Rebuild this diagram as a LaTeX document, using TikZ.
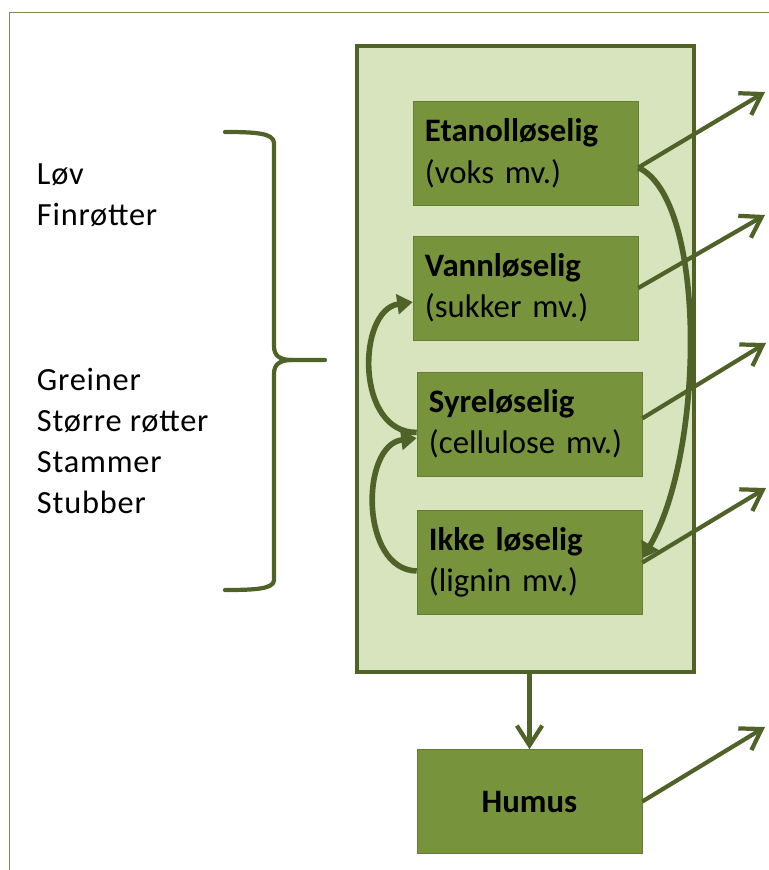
\documentclass[tikz,border=0pt]{standalone}
\usepackage{fontspec}
\setmainfont{Carlito}
\usetikzlibrary{arrows.meta}

\definecolor{olivedark}{HTML}{4F6228}
\definecolor{olivemid}{HTML}{77933C}
\definecolor{olivepale}{HTML}{D7E4BD}
\definecolor{framegray}{HTML}{7D8C5C}

\tikzset{
    pool/.style={draw=olivedark, line width=2.4pt, fill=olivepale, minimum width=8.425cm, minimum height=15.65cm},
    fraction/.style={draw=olivemid!85!black, line width=0.4pt, fill=olivemid, minimum width=5.625cm, minimum height=2.6cm,
        text width=5.025cm, inner xsep=0.3cm, align=left, font=\fontsize{23.3}{29.5}\selectfont},
    flow/.style={draw=olivedark, line width=3pt, -{Straight Barb[length=14pt,width=18pt]}},
    turn/.style={draw=olivedark, line width=4pt, -{Triangle[length=11pt,width=14pt]}},
    brace/.style={draw=olivedark, line width=3pt, line cap=round},
    source/.style={anchor=west, align=left, font=\fontsize{23}{29}\selectfont\addfontfeature{LetterSpace=2.5}}
}

\begin{document}
\begin{tikzpicture}[x=0.025cm, y=-0.025cm]
    \useasboundingbox (0,0) rectangle (769,870);
    \draw[framegray, line width=0.7pt] (9,870) -- (9,12) -- (769,12);

    % litter types
    \node[source] (leaves) at (32,195) {Løv\\Finrøtter};
    \node[source] (woody) at (32,441) {Greiner\\Større røtter\\Stammer\\Stubber};
    \draw[brace] (225,132) .. controls (255,132) and (274,133) .. (274,143) -- (274,346)
        .. controls (274,356) and (280,360) .. (292,360) -- (325,360);
    \draw[brace] (292,360) .. controls (280,360) and (274,364) .. (274,374) -- (274,580)
        .. controls (274,589) and (255,590) .. (225,590);

    % fractions
    \node[pool] (pool) at (525.5,359) {};
    \node[fraction] (etanol) at (525.5,153.5) {\textbf{Etanolløselig}\\(voks mv.)};
    \node[fraction] (vann) at (525.5,288) {\textbf{Vannløselig}\\(sukker mv.)};
    \node[fraction] (syre) at (529.5,424) {\textbf{Syreløselig}\\(cellulose mv.)};
    \node[fraction] (ikke) at (529.5,562.5) {\textbf{Ikke løselig}\\(lignin mv.)};
    \node[fraction, align=center] (humus) at (529.5,801.5) {\textbf{Humus}};

    % losses
    \coordinate (out1) at (765,92);
    \coordinate (out2) at (765,215);
    \coordinate (out3) at (766,343);
    \coordinate (out4) at (766,488);
    \coordinate (out5) at (765,727);
    \draw[flow] ([yshift=-10pt]etanol.east) -- (out1);
    \draw[flow] (vann.east) -- (out2);
    \draw[flow] ([yshift=4pt]syre.east) -- (out3);
    \draw[flow] (ikke.east) -- (out4);
    \draw[flow] (humus.east) -- (out5);
    \draw[flow] (pool.south -| humus.north) -- (humus.north);

    % transfers between fractions
    \draw[turn] ([yshift=-10pt]etanol.east) .. controls (708,200) and (704,455) .. ([yshift=3pt]ikke.east);
    \draw[turn] ([yshift=-6pt]syre.west) .. controls (355,433) and (357,310) .. ([yshift=-10pt]vann.west);
    \draw[turn] ([yshift=-6pt]ikke.west) .. controls (360,570) and (360,445) .. ([yshift=-10pt]syre.west);
\end{tikzpicture}
\end{document}
